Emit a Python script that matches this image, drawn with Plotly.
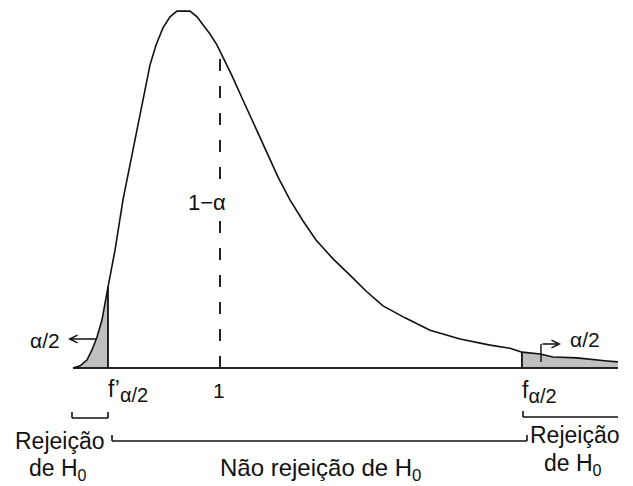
import numpy as np
import plotly.graph_objects as go

# F-distribution curve
F_vals = [0.000, 0.048, 0.095, 0.129, 0.163, 0.197, 0.238, 0.286, 0.340, 0.408, 0.476,
          0.524, 0.565, 0.612, 0.660, 0.707, 0.796, 0.844, 0.884, 0.932, 0.980, 1.014,
          1.082, 1.156, 1.238, 1.320, 1.395, 1.476, 1.565, 1.653, 1.769, 1.884, 1.993,
          2.109, 2.259, 2.429, 2.633, 2.837, 2.973, 3.054, 3.177, 3.265, 3.429, 3.633, 3.707]
density = [0.000, 0.005, 0.018, 0.041, 0.070, 0.109, 0.184, 0.268, 0.382, 0.495, 0.609,
           0.689, 0.734, 0.773, 0.798, 0.811, 0.811, 0.798, 0.780, 0.759, 0.734, 0.711,
           0.664, 0.609, 0.548, 0.489, 0.434, 0.382, 0.334, 0.291, 0.248, 0.211, 0.175,
           0.141, 0.114, 0.086, 0.066, 0.052, 0.045, 0.036, 0.032, 0.025, 0.023, 0.016, 0.014]
f_low = 0.238    # f'_{alpha/2}
f_high = 3.054   # f_{alpha/2}
f_one = 1.0

F = np.array(F_vals)
D = np.array(density)
d_low = float(np.interp(f_low, F, D))
d_high = float(np.interp(f_high, F, D))
d_one = float(np.interp(f_one, F, D))

left_mask = F <= f_low + 1e-9
right_mask = F >= f_high - 1e-9

W, H = 633, 486
FONT = "Arial, Liberation Sans, sans-serif"
GRAY = "#c0c0c0"

fig = go.Figure()
# shaded tails
fig.add_trace(go.Scatter(x=F[left_mask], y=D[left_mask], mode="lines", fill="tozeroy",
                         fillcolor=GRAY, line=dict(width=0), hoverinfo="skip"))
fig.add_trace(go.Scatter(x=F[right_mask], y=D[right_mask], mode="lines", fill="tozeroy",
                         fillcolor=GRAY, line=dict(width=0), hoverinfo="skip"))
# baseline
fig.add_trace(go.Scatter(x=[F[0], F[-1]], y=[0, 0], mode="lines",
                         line=dict(color="#222", width=2.2), hoverinfo="skip"))
# curve
fig.add_trace(go.Scatter(x=F, y=D, mode="lines", line=dict(color="#111", width=1.6),
                         hoverinfo="skip"))
# critical lines
fig.add_trace(go.Scatter(x=[f_low, f_low], y=[0, d_low], mode="lines",
                         line=dict(color="#111", width=1.8), hoverinfo="skip"))
fig.add_trace(go.Scatter(x=[f_high, f_high], y=[0, d_high], mode="lines",
                         line=dict(color="#111", width=1.8), hoverinfo="skip"))
# dashed line at 1
fig.add_trace(go.Scatter(x=[f_one, f_one], y=[0, d_one], mode="lines",
                         line=dict(color="#222", width=2, dash="12px,15px"), hoverinfo="skip"))

def px(p):
    return p / W

def py(p):
    return 1 - p / H

def text(x, y, s, size=22, bg=None):
    fig.add_annotation(x=px(x), y=py(y), xref="paper", yref="paper", text=s,
                       showarrow=False, font=dict(family=FONT, size=size, color="#111"),
                       xanchor="center", yanchor="middle",
                       bgcolor=bg if bg else "rgba(0,0,0,0)", borderpad=0)

SUB_A = "<sub><span style='font-size:20px'>α/2</span></sub>"

# labels
text(45, 340, "α/2", 21)
text(585, 339, "α/2", 21)
text(207, 202, "1−α", 22, bg="white")
text(128, 391, "f’" + SUB_A, 23)
text(539, 392, "f" + SUB_A, 23)
text(219, 390, "1", 21)
text(60, 441, "Rejeição", 23)
text(58, 469, "de H<sub>0</sub>", 23)
text(575, 435, "Rejeição", 23)
text(573, 464, "de H<sub>0</sub>", 23)
text(320, 469, "Não rejeição de H<sub>0</sub>", 24)

# arrows (tail x0,y0 -> head x1,y1, pixel coordinates)
def arrow(x0, y0, x1, y1):
    fig.add_annotation(x=px(x1), y=py(y1), xref="paper", yref="paper",
                       ax=x0 - x1, ay=y0 - y1, axref="pixel", ayref="pixel",
                       text="", showarrow=True,
                       arrowhead=5, arrowsize=1.1, arrowwidth=1.4, arrowcolor="#111")

arrow(98, 339, 68, 339)
arrow(541, 344, 561, 344)

shapes = []
def seg(x0, y0, x1, y1, w=1.6):
    shapes.append(dict(type="line", xref="paper", yref="paper", x0=px(x0), y0=py(y0),
                       x1=px(x1), y1=py(y1), line=dict(color="#111", width=w)))

seg(541, 362, 541, 344, 1.4)
# left bracket
seg(72, 418, 108, 418)
seg(72, 418, 72, 412)
seg(108, 418, 108, 412)
# middle bracket
seg(112, 441, 527, 441)
seg(112, 441, 112, 435)
seg(527, 441, 527, 435)
# right bracket
seg(523, 417, 618, 417)
seg(523, 417, 523, 411)

fig.update_layout(
    shapes=shapes,
    width=W, height=H,
    margin=dict(l=0, r=0, t=0, b=0),
    paper_bgcolor="white", plot_bgcolor="white",
    showlegend=False,
    xaxis=dict(range=[-73 / 147, (W - 73) / 147], visible=False, fixedrange=True),
    yaxis=dict(range=[(368 - H) / 440, 368 / 440], visible=False, fixedrange=True),
)

fig.write_html("out.html", config={"displayModeBar": False},
               post_script="document.body.style.margin='0px';document.body.style.overflow='hidden';")
